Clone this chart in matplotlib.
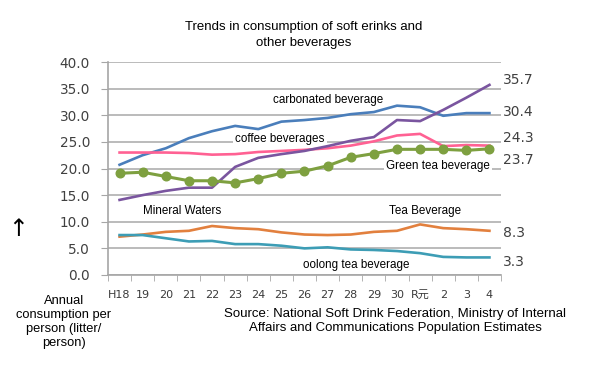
import matplotlib
matplotlib.use("Agg")
from matplotlib import pyplot as plt
import numpy as np

years = ["H18", "19", "20", "21", "22", "23", "24", "25", "26", "27",
         "28", "29", "30", "R元", "2", "3", "4"]

carbonated = [20.7, 22.5, 23.8, 25.7, 27.0, 28.0, 27.4, 28.8, 29.1, 29.5,
              30.2, 30.6, 31.8, 31.5, 29.9, 30.4, 30.4]
coffee = [23.0, 23.0, 23.0, 22.9, 22.6, 22.7, 23.1, 23.3, 23.5, 23.8,
          24.3, 25.1, 26.2, 26.5, 24.2, 24.4, 24.3]
mineral = [14.1, 15.0, 15.8, 16.4, 16.4, 20.3, 22.0, 22.7, 23.3, 24.2,
           25.2, 25.9, 29.1, 28.9, 31.0, 33.3, 35.7]
green_tea = [19.1, 19.3, 18.5, 17.7, 17.7, 17.3, 18.1, 19.1, 19.5, 20.5,
             22.1, 22.8, 23.6, 23.6, 23.6, 23.4, 23.7]
tea = [7.2, 7.6, 8.1, 8.3, 9.2, 8.8, 8.6, 8.0, 7.6, 7.5,
       7.6, 8.1, 8.3, 9.5, 8.8, 8.6, 8.3]
oolong = [7.5, 7.5, 6.9, 6.3, 6.4, 5.8, 5.8, 5.5, 5.0, 5.2,
          4.8, 4.7, 4.5, 4.1, 3.4, 3.3, 3.3]

end_labels = ["35.7", "30.4", "24.3", "23.7", "8.3", "3.3"]

W, H = 606, 373
fig = plt.figure(figsize=(W / 100, H / 100), dpi=100)


def fx(x):
    return x / W


def fy(y):
    return 1 - y / H


ax = fig.add_axes([fx(108), fy(275), fx(501) - fx(108), fy(62) - fy(275)])
x = np.arange(len(years))

ax.plot(x, carbonated, color="#4a7ebb", lw=1.9, zorder=3)
ax.plot(x, coffee, color="#ff6193", lw=1.9, zorder=3)
ax.plot(x, mineral, color="#7a559f", lw=1.9, zorder=4)
ax.plot(x, tea, color="#e2803e", lw=1.9, zorder=3)
ax.plot(x, oolong, color="#3d9db5", lw=1.9, zorder=3)
ax.plot(x, green_tea, color="#7ea040", lw=2.2, marker="o", ms=6.2, zorder=5)

ax.set_xlim(-0.5, len(years) - 0.5)
ax.set_ylim(0, 40)
ax.set_yticks(np.arange(0, 41, 5))
ax.set_yticklabels([f"{v:.1f}" for v in np.arange(0, 41, 5)],
                   fontsize=9.8, color="#404040", family="DejaVu Sans")
ax.set_xticks(x)
ax.set_xticklabels(years, fontsize=8, color="#3a3a3a",
                   family=["DejaVu Sans", "Noto Sans CJK JP"])
ax.set_xticks(np.arange(-0.5, len(years), 1), minor=True)
ax.tick_params(axis="x", which="major", length=0, pad=11)
ax.tick_params(axis="x", which="minor", length=4, color="#a6a6a6", direction="out")
ax.tick_params(axis="y", length=5, color="#a6a6a6", pad=8)
ax.grid(axis="y", color="#b5b5b5", lw=1.3)
ax.set_axisbelow(True)
for s in ["top", "right"]:
    ax.spines[s].set_visible(False)
for s in ["left", "bottom"]:
    ax.spines[s].set_color("#a6a6a6")
    ax.spines[s].set_linewidth(1.2)

sans = ["Liberation Sans", "DejaVu Sans"]
ft = fig.transFigure

fig.text(fx(304), fy(35), "Trends in consumption of soft erinks and\nother beverages",
         ha="center", va="center", fontsize=9.5, family=sans, linespacing=1.4)

# series names inside the plot (above grid, below the lines)
ax.text(fx(328), fy(100), "carbonated beverage", transform=ft, fontsize=8.4,
        family=sans, ha="center", va="center", zorder=2.5)
ax.text(fx(280), fy(139), "coffee beverages", transform=ft, ha="center", va="center",
        fontsize=8.4, family=sans, bbox=dict(fc="white", ec="none", pad=1.5), zorder=2.5)
ax.text(fx(182), fy(211), "Mineral Waters", transform=ft, ha="center", va="center",
        fontsize=8.4, family=sans, zorder=2.5)
ax.text(fx(438), fy(166), "Green tea beverage", transform=ft, ha="center", va="center",
        fontsize=8.4, family=sans, bbox=dict(fc="white", ec="none", pad=1.5), zorder=2.5)
ax.text(fx(425), fy(211), "Tea Beverage", transform=ft, ha="center", va="center",
        fontsize=8.4, family=sans, zorder=2.5)
ax.text(fx(356), fy(265), "oolong tea beverage", transform=ft, ha="center", va="center",
        fontsize=8.4, family=sans, bbox=dict(fc="white", ec="none", pad=1.0), zorder=2.5)

# end values on the right
for lab, yy in zip(end_labels, [80, 112, 138, 160, 233, 262]):
    fig.text(fx(503), fy(yy), lab, ha="left", va="center", fontsize=10,
             color="#404040", family="DejaVu Sans")

fig.text(fx(18), fy(229), "↑", ha="center", va="center", fontsize=17,
         family="DejaVu Sans")
fig.text(fx(64), fy(322), "Annual\nconsumption per\nperson (litter/\nperson)",
         ha="center", va="center", fontsize=9.3, family=sans, linespacing=1.2)
fig.text(fx(395), fy(321), "Source: National Soft Drink Federation, Ministry of Internal\n"
         "Affairs and Communications Population Estimates",
         ha="center", va="center", fontsize=9.5, family=sans, linespacing=1.2)

fig.savefig("out.png", dpi=100)
